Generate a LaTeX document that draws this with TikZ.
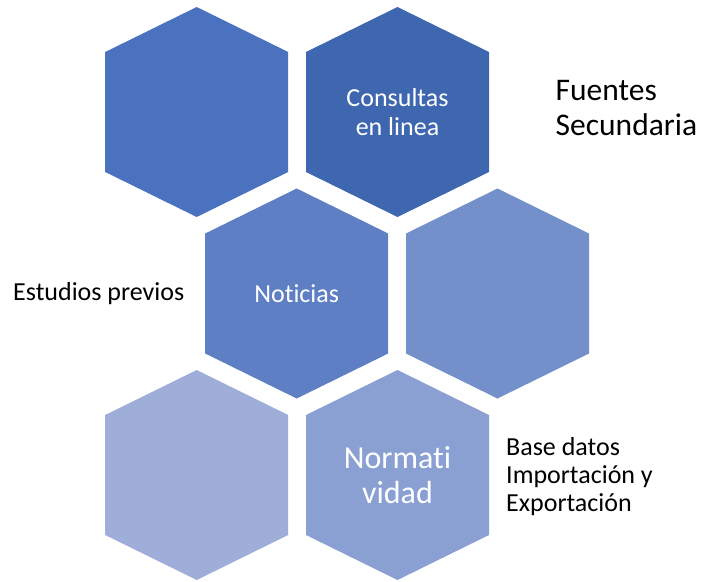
\documentclass[tikz,border=0pt]{standalone}
\usepackage{fontspec}
\setmainfont{Carlito}[Ligatures=CommonOff]
\usetikzlibrary{positioning}
\definecolor{hexone}{HTML}{4A72BE}
\definecolor{hextwo}{HTML}{3F67B0}
\definecolor{hexthree}{HTML}{5F7FC4}
\definecolor{hexfour}{HTML}{7490CA}
\definecolor{hexfive}{HTML}{9FAED8}
\definecolor{hexsix}{HTML}{8AA0D2}
\tikzset{
  hexlabel/.style={text=white,align=center,inner sep=0pt},
  sidelabel/.style={text=black,align=left,inner sep=0pt,anchor=west}
}

\begin{document}
\begin{tikzpicture}[x=1pt,y=-1pt]
    \useasboundingbox (0,0) rectangle (717,581);
    % honeycomb, one hexagon per entry
    \foreach \cx/\cy/\col/\fs/\ls/\txt[count=\i] in {
        196.7/112/hexone/26/29/{},
        397.5/112/hextwo/26/29/{Consultas\\en linea},
        296.7/293.5/hexthree/26/29/{Noticias},
        497.5/293.5/hexfour/26/29/{},
        196.7/475/hexfive/26/29/{},
        397.5/475/hexsix/32/35/{Normati\\vidad}}{
        \fill[\col] (\cx,\cy) ++(0,-105) -- ++(91.5,45) -- ++(0,120) -- ++(-91.5,45)
            -- ++(-91.5,-45) -- ++(0,-120) -- cycle;
        \node[hexlabel,font=\fontsize{\fs}{\ls}\selectfont] (hex\i) at (\cx,\cy) {\txt};
    }
    \node[sidelabel,font=\fontsize{31.5}{35.3}\selectfont] (fuentes) at (555.5,108) {Fuentes\\Secundaria};
    \node[sidelabel,font=\fontsize{26}{29}\selectfont] (estudios) at (13,294) {Estudios previos};
    \node[sidelabel,font=\fontsize{26}{28}\selectfont] (basedatos) at (506,477) {Base datos\\Importación y\\Exportación};
\end{tikzpicture}
\end{document}
